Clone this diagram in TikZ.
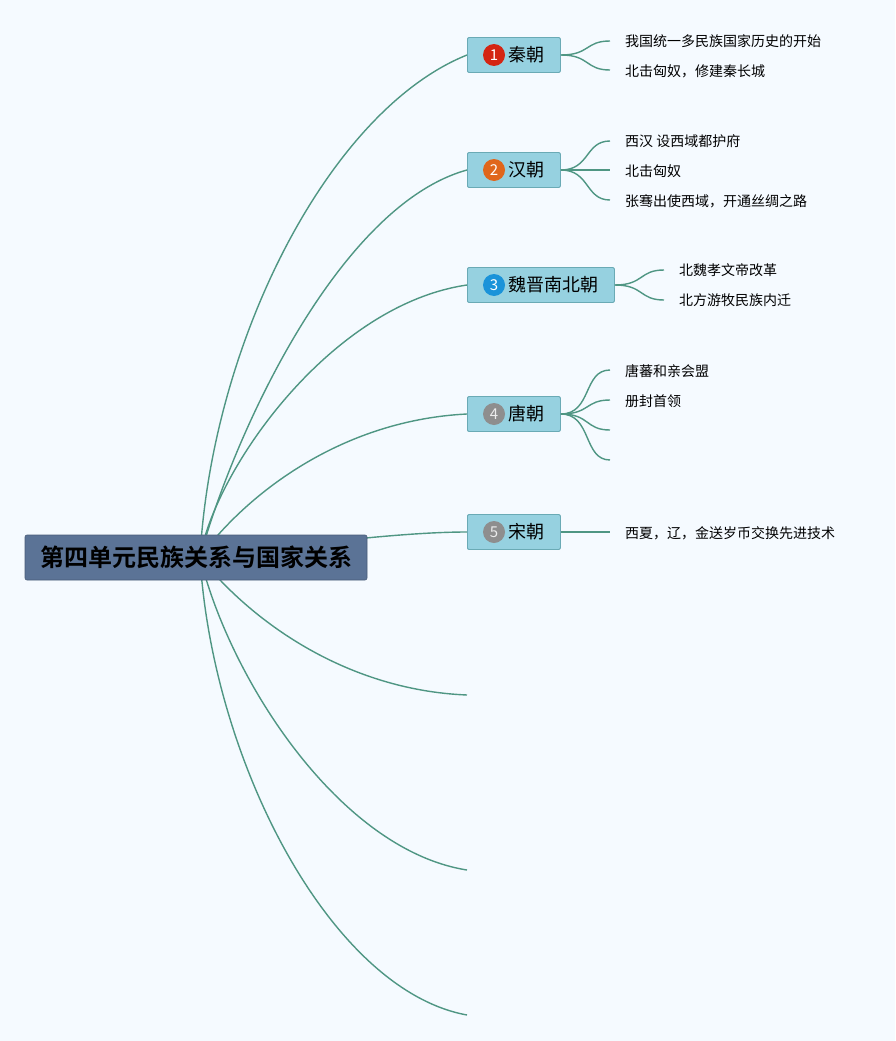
\documentclass[tikz,border=0pt]{standalone}
\usepackage{fontspec}
\setmainfont{Noto Sans CJK SC}
\newfontfamily\cjk{Noto Sans CJK SC}
\newfontfamily\cjkbold{Noto Sans CJK SC Bold}
\definecolor{bgc}{HTML}{F5FAFF}
\definecolor{rootfill}{HTML}{5B7396}
\definecolor{childfill}{HTML}{96D1E0}
\definecolor{childdraw}{HTML}{6AAAB5}
\definecolor{linec}{HTML}{4F9683}
\definecolor{nred}{HTML}{D42513}
\definecolor{norange}{HTML}{E0661B}
\definecolor{nblue}{HTML}{1A93D9}
\definecolor{ngray}{HTML}{8E8E8E}
\begin{document}
\begin{tikzpicture}[x=1pt,y=-1pt,
  conn/.style={draw=linec,line width=1.4pt},
  rootbox/.style={fill=rootfill,draw=rootfill!80!black,line width=0.6pt,rounded corners=2pt,minimum width=342pt,minimum height=45pt,inner sep=0pt,font=\cjkbold\fontsize{24}{24}\selectfont},
  childbox/.style={fill=childfill,draw=childdraw,line width=0.8pt,rounded corners=2pt,minimum height=35pt,inner sep=0pt,anchor=west},
  numc/.style={circle,inner sep=0pt,minimum size=22pt,text=white,font=\cjk\fontsize{15}{15}\selectfont},
  ctext/.style={font=\cjk\fontsize{18}{18}\selectfont,inner sep=0pt,anchor=west},
  leaf/.style={font=\cjk\fontsize{14}{14}\selectfont,inner sep=0pt,anchor=west}
]
\fill[bgc] (0,0) rectangle (895,1041);
\useasboundingbox (0,0) rectangle (895,1041);

% root anchor (hidden behind root box)
\coordinate (rc) at (200,557);
% child boxes
\node[childbox,minimum width=93pt] (c1) at (467,55) {};
\node[childbox,minimum width=93pt] (c2) at (467,170) {};
\node[childbox,minimum width=147pt] (c3) at (467,285) {};
\node[childbox,minimum width=93pt] (c4) at (467,414) {};
\node[childbox,minimum width=93pt] (c5) at (467,532) {};
\coordinate (e1) at (467,695);
\coordinate (e2) at (467,870);
\coordinate (e3) at (467,1015);

% main branches
\draw[conn] (rc) .. controls (212,340) and (330,110) .. (c1.west);
\draw[conn] (rc) .. controls (235,430) and (340,205) .. (c2.west);
\draw[conn] (rc) .. controls (215,470) and (330,305) .. (c3.west);
\draw[conn] (rc) .. controls (250,490) and (345,420) .. (c4.west);
\draw[conn] (rc) .. controls (300,545) and (400,532) .. (c5.west);
\draw[conn] (rc) .. controls (250,620) and (345,690) .. (e1);
\draw[conn] (rc) .. controls (230,680) and (340,850) .. (e2);
\draw[conn] (rc) .. controls (212,760) and (330,990) .. (e3);

% root
\node[rootbox] (root) at (196,557.5) {第四单元民族关系与国家关系};

% redraw child boxes on top
\node[childbox,minimum width=93pt] at (467,55) {};
\node[childbox,minimum width=93pt] at (467,170) {};
\node[childbox,minimum width=147pt] at (467,285) {};
\node[childbox,minimum width=93pt] at (467,414) {};
\node[childbox,minimum width=93pt] at (467,532) {};

% numbers and titles
\node[numc,fill=nred] (n1) at (494,55) {1};
\node[ctext] (t1) at (508,55) {秦朝};
\node[numc,fill=norange] (n2) at (494,170) {2};
\node[ctext] (t2) at (508,170) {汉朝};
\node[numc,fill=nblue] (n3) at (494,285) {3};
\node[ctext] (t3) at (508,285) {魏晋南北朝};
\node[numc,fill=ngray,text=white!85!gray] (n4) at (494,414) {4};
\node[ctext] (t4) at (508,414) {唐朝};
\node[numc,fill=ngray,text=white!85!gray] (n5) at (494,532) {5};
\node[ctext] (t5) at (508,532) {宋朝};

% leaves of c1
\coordinate (l11) at (610,41);
\coordinate (l12) at (610,70);
\draw[conn] (c1.east) .. controls (590,55) and (585,41) .. (l11);
\draw[conn] (c1.east) .. controls (590,55) and (585,70) .. (l12);
\node[leaf] (k11) at (625,41) {我国统一多民族国家历史的开始};
\node[leaf] (k12) at (625,71) {北击匈奴，修建秦长城};

% leaves of c2
\coordinate (l21) at (610,141);
\coordinate (l22) at (610,170);
\coordinate (l23) at (610,200);
\draw[conn] (c2.east) .. controls (590,170) and (585,141) .. (l21);
\draw[conn] (c2.east) -- (l22);
\draw[conn] (c2.east) .. controls (590,170) and (585,200) .. (l23);
\node[leaf] (k21) at (625,141) {西汉 设西域都护府};
\node[leaf] (k22) at (625,171) {北击匈奴};
\node[leaf] (k23) at (625,201) {张骞出使西域，开通丝绸之路};

% leaves of c3
\coordinate (l31) at (664,270);
\coordinate (l32) at (664,300);
\draw[conn] (c3.east) .. controls (644,285) and (639,270) .. (l31);
\draw[conn] (c3.east) .. controls (644,285) and (639,300) .. (l32);
\node[leaf] (k31) at (679,270) {北魏孝文帝改革};
\node[leaf] (k32) at (679,300) {北方游牧民族内迁};

% leaves of c4
\coordinate (l41) at (610,370);
\coordinate (l42) at (610,400);
\coordinate (l43) at (610,430);
\coordinate (l44) at (610,460);
\draw[conn] (c4.east) .. controls (592,414) and (583,370) .. (l41);
\draw[conn] (c4.east) .. controls (590,414) and (585,400) .. (l42);
\draw[conn] (c4.east) .. controls (590,414) and (585,430) .. (l43);
\draw[conn] (c4.east) .. controls (592,414) and (583,460) .. (l44);
\node[leaf] (k41) at (625,371) {唐蕃和亲会盟};
\node[leaf] (k42) at (625,401) {册封首领};

% leaf of c5
\coordinate (l51) at (610,532);
\draw[conn] (c5.east) -- (l51);
\node[leaf] (k51) at (625,533) {西夏，辽，金送岁币交换先进技术};
\end{tikzpicture}
\end{document}
